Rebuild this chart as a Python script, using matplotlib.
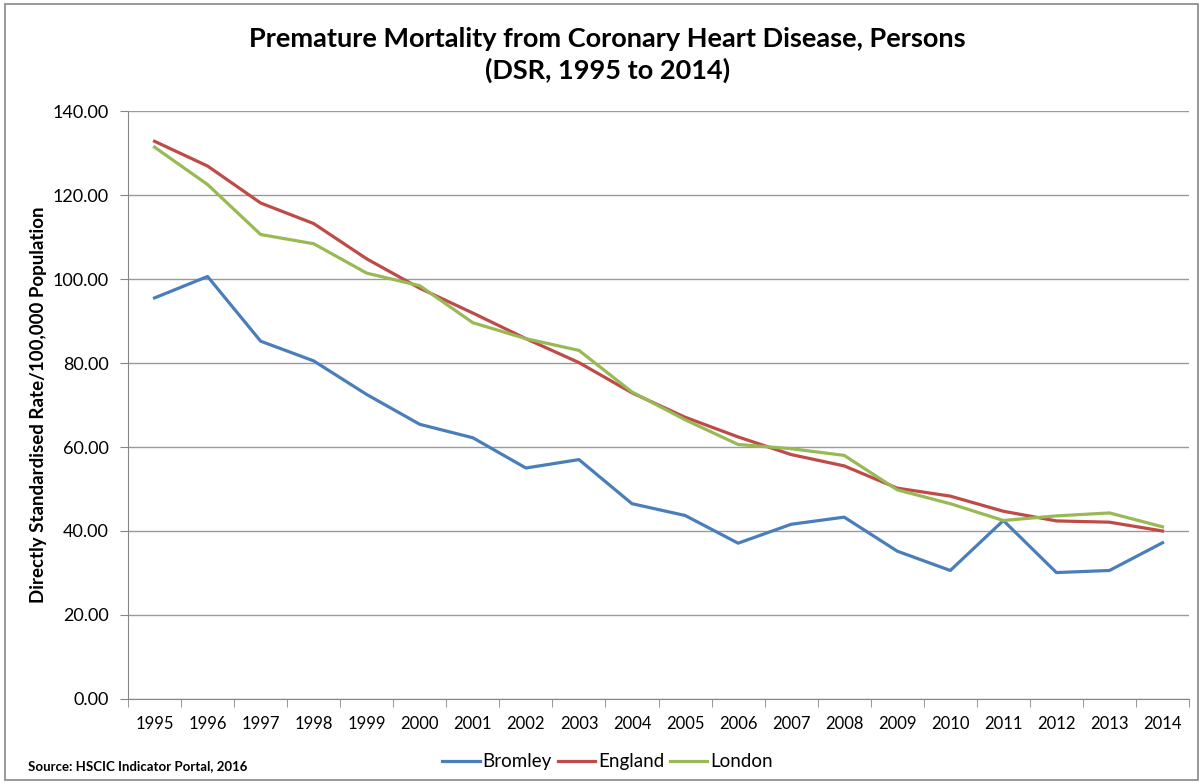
import numpy as np
import matplotlib
matplotlib.use("Agg")
from matplotlib import pyplot as plt
from matplotlib.patches import Rectangle

years = [str(y) for y in range(1995, 2015)]
bromley = [95.5, 100.6, 85.2, 80.5, 72.5, 65.4, 62.2, 55.0, 57.0, 46.5,
           43.7, 37.1, 41.6, 43.3, 35.2, 30.6, 42.5, 30.1, 30.6, 37.2]
england = [132.8, 126.9, 118.1, 113.2, 104.8, 97.8, 91.9, 85.8, 80.1, 72.9,
           67.1, 62.4, 58.2, 55.5, 50.2, 48.3, 44.7, 42.4, 42.1, 40.0]
london = [131.4, 122.5, 110.6, 108.4, 101.4, 98.4, 89.6, 85.8, 83.0, 73.1,
          66.5, 60.6, 59.6, 58.0, 49.8, 46.5, 42.5, 43.6, 44.3, 41.0]

series = [("Bromley", bromley, "#4A7EBB"),
          ("England", england, "#BE4B48"),
          ("London", london, "#98B954")]

plt.rcParams['font.family'] = ['Lato', 'DejaVu Sans']

fig = plt.figure(figsize=(12.03, 7.83), dpi=100)
ax = fig.add_axes([0.1064, 0.1073, 0.882, 0.7509])

# chart border and the clipped caption above it
fig.patches.append(Rectangle((5 / 1203, 3 / 783), 1193 / 1203, 776 / 783,
                             transform=fig.transFigure, fill=False,
                             edgecolor="#868686", linewidth=1.2))
fig.text(0.0, 1.012, "g", fontsize=16, fontweight="bold", va="baseline")

x = np.arange(len(years))
for name, vals, col in series:
    ax.plot(x, vals, color=col, linewidth=2.3, label=name)

ax.set_xlim(-0.5, len(years) - 0.5)
ax.set_ylim(0, 140)
ax.set_yticks(np.arange(0, 141, 20))
ax.set_yticklabels([f"{v:.2f}" for v in range(0, 141, 20)], fontsize=13)
ax.set_xticks(x)
ax.set_xticklabels(years, fontsize=12)
ax.set_xticks(np.arange(len(years) + 1) - 0.5, minor=True)
ax.tick_params(axis="x", which="major", length=0, pad=12)
ax.tick_params(axis="x", which="minor", length=6, color="#868686")
ax.tick_params(axis="y", length=6, color="#868686", pad=8)
ax.grid(axis="y", color="#9A9A9A", linewidth=1.0)
ax.set_axisbelow(True)
for s in ["top", "right"]:
    ax.spines[s].set_visible(False)
for s in ["left", "bottom"]:
    ax.spines[s].set_color("#868686")

ax.set_ylabel("Directly Standardised Rate/100,000 Population",
              fontsize=13.5, fontweight="bold", labelpad=4)
fig.text(0.505, 1 - 55 / 783,
         "Premature Mortality from Coronary Heart Disease, Persons\n(DSR, 1995 to 2014)",
         fontsize=19.5, fontweight="bold", ha="center", va="center",
         linespacing=1.3)

fig.legend(loc="center", bbox_to_anchor=(0.505, 0.027), ncol=3, frameon=False,
           fontsize=13.5, handlelength=2.0, handletextpad=0.15, columnspacing=0.3)
fig.text(28 / 1203, 1 - 766 / 783, "Source: HSCIC Indicator Portal, 2016",
         fontsize=9.5, fontweight="bold", va="center")

fig.savefig("out.png", dpi=100)
